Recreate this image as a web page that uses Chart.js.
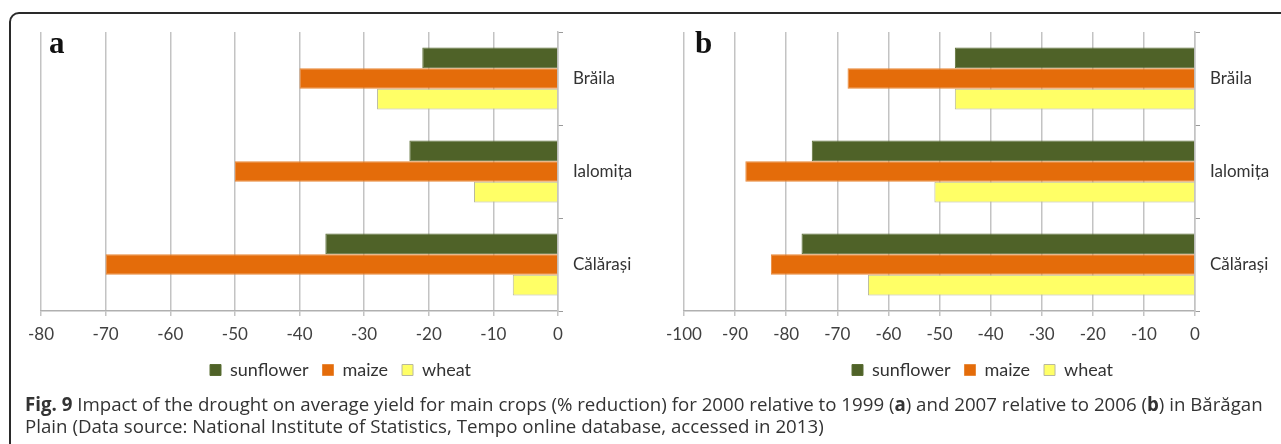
<!DOCTYPE html>
<html lang="en">
<head>
    <meta charset="UTF-8"/>
    <title>Fig. 9 drought impact</title>
    <script src="https://cdn.jsdelivr.net/npm/chart.js"></script>
    <style>
        body { margin: 0; background: #fff; width: 1281px; height: 444px; overflow: hidden; position: relative; }
        .frame { position: absolute; left: 9px; top: 12px; width: 1400px; height: 500px;
                 border: 2px solid #2a2a2a; border-top-left-radius: 10px; box-sizing: border-box; }
        .panel { position: absolute; top: 0; }
        #panelA { left: 0; width: 640px; height: 392px; }
        #panelB { left: 640px; width: 641px; height: 392px; }
        .caption { position: absolute; left: 25px; top: 393px; width: 1256px; white-space: nowrap;
                   font-family: "Open Sans", sans-serif; font-size: 18.7px; line-height: 22px; color: #333; }
        .caption b { font-weight: 700; }
    </style>
</head>
<body>
    <div class="frame"></div>
    <div class="panel" id="panelA"><canvas id="chartA" width="640" height="392"></canvas></div>
    <div class="panel" id="panelB"><canvas id="chartB" width="641" height="392"></canvas></div>
    <div class="caption">
        <b>Fig. 9</b> Impact of the drought on average yield for main crops (% reduction) for 2000 relative to 1999 (<b>a</b>) and 2007 relative to 2006 (<b>b</b>) in Bărăgan<br>
        Plain (Data source: National Institute of Statistics, Tempo online database, accessed in 2013)
    </div>
    <script>
        // counties (top to bottom)
        const counties = ['Brăila', 'Ialomița', 'Călărași'];

        // (a) 2000 relative to 1999, % reduction
        const sunflowerA = [-21, -23, -36];
        const maizeA = [-40, -50, -70];
        const wheatA = [-28, -13, -7];
        const ticksA = [-80, -70, -60, -50, -40, -30, -20, -10, 0];

        // (b) 2007 relative to 2006, % reduction
        const sunflowerB = [-47, -75, -77];
        const maizeB = [-68, -88, -83];
        const wheatB = [-47, -51, -64];
        const ticksB = [-100, -90, -80, -70, -60, -50, -40, -30, -20, -10, 0];

        const tickFont = { family: 'Lato, "Liberation Sans", sans-serif', size: 17 };
        const gridGrey = '#c3c3c3';

        // bold serif letter in the top-left corner of each panel
        const panelLetter = {
            id: 'panelLetter',
            afterDraw(chart, args, opts) {
                const c = chart.ctx;
                c.save();
                c.font = 'bold 31px "Liberation Serif", "DejaVu Serif", serif';
                c.fillStyle = '#111';
                c.textBaseline = 'alphabetic';
                c.fillText(opts.text, opts.x, opts.y);
                c.restore();
            }
        };

        function makeChart(id, sun, maize, wheat, ticks, padLeft, axisWidth, letter, letterX) {
            const ctx = document.getElementById(id).getContext('2d');
            return new Chart(ctx, {
                type: 'bar',
                data: {
                    labels: counties,
                    datasets: [
                        { label: 'sunflower', data: sun, backgroundColor: '#4f6228', borderColor: '#5b6e34', borderWidth: 1 },
                        { label: 'maize', data: maize, backgroundColor: '#e46c0a', borderColor: '#e8893a', borderWidth: 1 },
                        { label: 'wheat', data: wheat, backgroundColor: '#ffff66', borderColor: '#b8b8a0', borderWidth: 1 }
                    ]
                },
                plugins: [panelLetter],
                options: {
                    indexAxis: 'y',
                    responsive: false,
                    animation: false,
                    layout: { padding: { left: padLeft, top: 32, right: 0, bottom: 3 } },
                    datasets: { bar: { categoryPercentage: 0.667, barPercentage: 1 } },
                    plugins: {
                        tooltip: { enabled: false },
                        panelLetter: { text: letter, x: letterX, y: 53 },
                        legend: {
                            position: 'bottom',
                            labels: {
                                boxWidth: 11, boxHeight: 11, padding: 14,
                                color: '#333',
                                font: { family: 'Lato, "Liberation Sans", sans-serif', size: 18 }
                            }
                        }
                    },
                    scales: {
                        x: {
                            min: ticks[0], max: ticks[ticks.length - 1],
                            afterBuildTicks: (s) => { s.ticks = ticks.map(v => ({ value: v })); },
                            afterFit: (s) => { s.height = 36; },
                            grid: { color: gridGrey, lineWidth: 1.5, tickLength: 5 },
                            border: { color: '#b0b0b0', width: 1.5 },
                            ticks: { color: '#404040', font: tickFont, padding: 8, maxRotation: 0 }
                        },
                        y: {
                            position: 'right',
                            afterFit: (s) => { s.width = axisWidth; },
                            grid: { drawOnChartArea: false, color: '#9a9a9a', tickLength: 5 },
                            border: { color: gridGrey, width: 1.5 },
                            ticks: { color: '#333', font: tickFont, padding: 10 }
                        }
                    }
                }
            });
        }

        makeChart('chartA', sunflowerA, maizeA, wheatA, ticksA, 41, 82, 'a', 49);
        makeChart('chartB', sunflowerB, maizeB, wheatB, ticksB, 44, 86, 'b', 55);
    </script>
</body>
</html>
